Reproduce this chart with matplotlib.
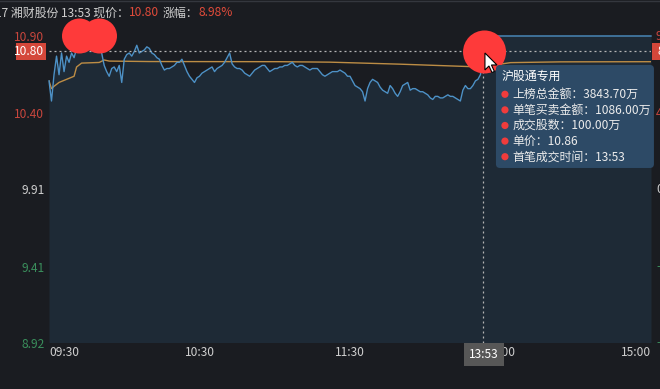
import matplotlib.pyplot as plt
import matplotlib.transforms as mtransforms
from matplotlib.patches import Rectangle, Circle, Polygon, FancyBboxPatch

plt.rcParams['font.family'] = ['Noto Sans CJK SC', 'DejaVu Sans']

# 分时数据：09:30 起按分钟计（0~240，午休合并）
minutes = list(range(241))
prices = [
    10.61, 10.48, 10.65, 10.77, 10.65, 10.79, 10.67, 10.77, 10.73, 10.79,
    10.76, 10.82, 10.84, 10.83, 10.86, 10.84, 10.85, 10.83, 10.86, 10.84,
    10.82, 10.79, 10.71, 10.67, 10.64, 10.69, 10.70, 10.67, 10.71, 10.60,
    10.75, 10.78, 10.79, 10.77, 10.80, 10.84, 10.79, 10.80, 10.81, 10.83,
    10.82, 10.79, 10.78, 10.76, 10.75, 10.71, 10.68, 10.69, 10.69, 10.70,
    10.71, 10.73, 10.73, 10.75, 10.71, 10.67, 10.64, 10.62, 10.60, 10.63,
    10.64, 10.66, 10.67, 10.68, 10.69, 10.70, 10.67, 10.69, 10.70, 10.71,
    10.73, 10.76, 10.79, 10.72, 10.70, 10.69, 10.69, 10.68, 10.66, 10.65,
    10.64, 10.66, 10.68, 10.69, 10.70, 10.71, 10.71, 10.69, 10.67, 10.68,
    10.69, 10.69, 10.70, 10.70, 10.71, 10.71, 10.72, 10.73, 10.71, 10.70,
    10.71, 10.71, 10.70, 10.69, 10.68, 10.69, 10.69, 10.69, 10.67, 10.65,
    10.64, 10.65, 10.66, 10.67, 10.67, 10.67, 10.68, 10.67, 10.66, 10.64,
    10.64, 10.61, 10.58, 10.57, 10.56, 10.54, 10.48, 10.56, 10.60, 10.62,
    10.61, 10.60, 10.57, 10.55, 10.54, 10.53, 10.58, 10.56, 10.53, 10.51,
    10.54, 10.58, 10.59, 10.60, 10.55, 10.56, 10.56, 10.55, 10.54, 10.54,
    10.53, 10.52, 10.50, 10.49, 10.51, 10.51, 10.50, 10.50, 10.51, 10.52,
    10.51, 10.51, 10.50, 10.49, 10.48, 10.55, 10.58, 10.56, 10.56, 10.58,
    10.61, 10.62, 10.65, 10.80, 10.85, 10.89, 10.90, 10.90, 10.90, 10.90,
    10.90, 10.90, 10.90, 10.90, 10.90, 10.90, 10.90, 10.90, 10.90, 10.90,
    10.90, 10.90, 10.90, 10.90, 10.90, 10.90, 10.90, 10.90, 10.90, 10.90,
    10.90, 10.90, 10.90, 10.90, 10.90, 10.90, 10.90, 10.90, 10.90, 10.90,
    10.90, 10.90, 10.90, 10.90, 10.90, 10.90, 10.90, 10.90, 10.90, 10.90,
    10.90, 10.90, 10.90, 10.90, 10.90, 10.90, 10.90, 10.90, 10.90, 10.90,
    10.90, 10.90, 10.90, 10.90, 10.90, 10.90, 10.90, 10.90, 10.90, 10.90,
    10.90,
]

# 均价线
avg_minutes = [0, 1, 2, 4, 7, 10, 11, 13, 20, 22, 24, 40, 92, 112, 140, 172, 173, 179, 184, 204, 240]
avg_prices = [10.61, 10.56, 10.575, 10.60, 10.62, 10.64, 10.70, 10.725, 10.729, 10.745, 10.738,
              10.735, 10.734, 10.731, 10.718, 10.70, 10.702, 10.716, 10.728, 10.733, 10.734]

prev_close = 9.91
y_ticks = [8.92, 9.41, 9.91, 10.40, 10.90]
y_labels = ['8.92', '9.41', '9.91', '10.40', '10.90']
pct_labels = ['-9.98%', '-4.99%', '0.00%', '4.99%', '9.98%']
x_ticks = [0, 60, 120, 180, 240]
x_labels = ['09:30', '10:30', '11:30', '14:00', '15:00']

stock_name = '湘财股份'
cursor_minute = 173
cursor_time = '13:53'
tip_title = '沪股通专用'
tip_items = ['上榜总金额：3843.70万', '单笔买卖金额：1086.00万', '成交股数：100.00万',
             '单价：10.86', '首笔成交时间：13:53']

BG = '#1a1c21'
FILL = '#1e2a36'
BLUE = '#4d91c6'
ORANGE = '#bd8d45'
RED = '#d4473a'
RED_TXT = '#c9463d'
GREEN = '#3a8f5c'
GRAY_TXT = '#cfcfcf'
DOT = '#b5b5b5'
FS = 8.6

cursor_price = prices[cursor_minute]
change = (cursor_price / prev_close - 1) * 100


def label_color(v):
    if v > prev_close + 1e-9:
        return RED_TXT
    if v < prev_close - 1e-9:
        return GREEN
    return GRAY_TXT


def px_at(x, y, trans):
    # 以 (x, y) 为原点、单位为像素的变换
    return mtransforms.Affine2D() + mtransforms.ScaledTranslation(x, y, trans)


fig = plt.figure(figsize=(6.6, 3.89), dpi=100, facecolor=BG)
ax = fig.add_axes([49 / 660, 46.5 / 389, 602 / 660, 306.5 / 389])
ax.set_facecolor(BG)
ax.set_xlim(0, 240)
ax.set_ylim(y_ticks[0], y_ticks[-1])
for s in ax.spines.values():
    s.set_visible(False)

ax.fill_between(minutes, prices, y_ticks[0], color=FILL, lw=0, zorder=1)
ax.plot(avg_minutes, avg_prices, color=ORANGE, lw=1.0, zorder=2)
ax.plot(minutes, prices, color=BLUE, lw=1.0, zorder=3, clip_on=False)

# 十字光标
ax.axhline(cursor_price, color=DOT, lw=0.9, ls=(0, (1.6, 2.4)), zorder=4)
ax.axvline(cursor_minute, color=DOT, lw=0.9, ls=(0, (1.6, 2.4)), zorder=4)

# 坐标轴刻度
ax.set_yticks(y_ticks, y_labels)
ax.tick_params(axis='y', length=0, pad=3.4, labelsize=FS)
for lbl, v in zip(ax.get_yticklabels(), y_ticks):
    lbl.set_color(label_color(v))
ax.set_xticks(x_ticks, x_labels)
ax.tick_params(axis='x', length=0, pad=2.5, labelsize=FS, labelcolor=GRAY_TXT)
xl = ax.get_xticklabels()
xl[0].set_ha('left')
xl[-1].set_ha('right')

blend = mtransforms.blended_transform_factory(ax.transAxes, ax.transData)

# 右侧涨跌幅（超出画布的部分被裁掉）
for v, s in zip(y_ticks, pct_labels):
    ax.annotate(s, xy=(1, v), xycoords=blend, xytext=(5, 0), textcoords='offset pixels',
                ha='left', va='center', fontsize=FS, color=label_color(v), annotation_clip=False)

# 当前价格标签
ax.add_patch(Rectangle((-33, -8.5), 30, 17, transform=px_at(0, cursor_price, blend),
                       fc=RED, ec='none', clip_on=False, zorder=6))
ax.annotate(f'{cursor_price:.2f}', xy=(0, cursor_price), xycoords=blend, xytext=(-4.7, 0),
            textcoords='offset pixels', ha='right', va='center', fontsize=FS, color='white',
            zorder=7, annotation_clip=False)
ax.add_patch(Rectangle((1, -8.5), 20, 17, transform=px_at(1, cursor_price, blend),
                       fc=RED, ec='none', clip_on=False, zorder=6))
ax.annotate(f'{change:.2f}%', xy=(1, cursor_price), xycoords=blend, xytext=(6, 0),
            textcoords='offset pixels', ha='left', va='center', fontsize=FS, color='white',
            zorder=7, annotation_clip=False)

# 时间标签
xblend = mtransforms.blended_transform_factory(ax.transData, ax.transAxes)
ax.add_patch(Rectangle((-19, -23), 40, 22.5, transform=px_at(cursor_minute, 0, xblend),
                       fc='#575757', ec='none', clip_on=False, zorder=6))
ax.annotate(cursor_time, xy=(cursor_minute, 0), xycoords=xblend, xytext=(1, -11.5),
            textcoords='offset pixels', ha='center', va='center', fontsize=FS, color='white',
            zorder=7, annotation_clip=False)

# 红色圆点遮挡
corner = px_at(0, y_ticks[-1], blend)
for cx in (30.5, 50.5):
    ax.add_patch(Circle((cx, 0), 17.5, transform=corner, fc='#fe3a3a', ec='none',
                        clip_on=False, zorder=8))

cur = px_at(cursor_minute, cursor_price, ax.transData)
ax.add_patch(Circle((1.6, -0.5), 21.5, transform=cur, fc='#fe3a3a', ec='none',
                    clip_on=False, zorder=8))
arrow = [(0, 0), (0, -17), (4, -13), (7, -19.5), (9.5, -18.5), (6.5, -12), (12, -12)]
ax.add_patch(Polygon([(x + 2, y - 1.5) for x, y in arrow], closed=True, transform=cur,
                     fc='white', ec='black', lw=0.8, clip_on=False, zorder=9))

# 提示框
ax.add_patch(FancyBboxPatch((13, -116.5), 158, 103, boxstyle='round,pad=0,rounding_size=4',
                            transform=cur, fc='#2d4a66', ec='none', clip_on=False, zorder=8))
ax.annotate(tip_title, xy=(cursor_minute, cursor_price), xytext=(18.8, -25.2),
            textcoords='offset pixels', ha='left', va='center', fontsize=FS, color='white',
            zorder=9, annotation_clip=False)
for i, item in enumerate(tip_items):
    dy = -42.8 - 15.6 * i
    ax.add_patch(Circle((22, dy), 3.6, transform=cur, fc='#f03c3c', ec='none',
                        clip_on=False, zorder=9))
    ax.annotate(item, xy=(cursor_minute, cursor_price), xytext=(29.8, dy),
                textcoords='offset pixels', ha='left', va='center', fontsize=FS,
                color='#ececec', zorder=9, annotation_clip=False)

# 顶部标题
renderer = fig.canvas.get_renderer()
segments = [(f'17 {stock_name} {cursor_time} 现价：', GRAY_TXT, 0),
            (f'{cursor_price:.2f}', '#e04b3a', 0),
            ('涨幅：', GRAY_TXT, 4),
            (f'{change:.2f}%', '#e04b3a', 0)]
x = -5
for s, c, gap in segments:
    x += gap
    t = fig.text(x / 660, 1 - 13 / 389, s, color=c, fontsize=FS, ha='left', va='center')
    x += t.get_window_extent(renderer).width
fig.add_artist(plt.Line2D([0, 1], [1 - 0.5 / 389] * 2, transform=fig.transFigure,
                          color='#34373e', lw=1))

fig.savefig('out.png', dpi=100, facecolor=BG)
